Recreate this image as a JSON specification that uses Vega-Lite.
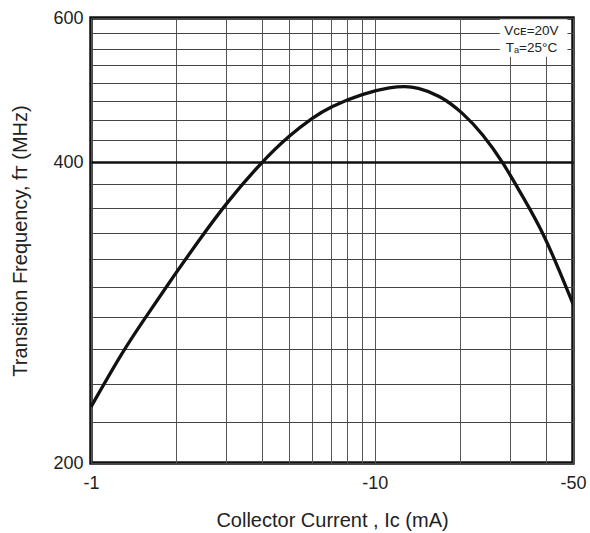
{
  "$schema": "https://vega.github.io/schema/vega-lite/v6.json",
  "autosize": "none",
  "width": 482,
  "height": 445,
  "padding": {"left": 91, "top": 18, "right": 17, "bottom": 70},
  "background": "white",
  "config": {
    "font": "Liberation Sans",
    "view": {"stroke": "#111", "strokeWidth": 3.5}
  },
  "encoding": {
    "x": {
      "field": "I",
      "type": "quantitative",
      "scale": {"type": "log", "domain": [1, 50], "nice": false, "zero": false},
      "axis": {
        "values": [1, 2, 3, 4, 5, 6, 7, 8, 9, 10, 20, 30, 40, 50],
        "labelExpr": "datum.value == 1 || datum.value == 10 || datum.value == 50 ? '-' + datum.value : ''",
        "title": "Collector Current , Iᴄ (mA)",
        "titleFont": "Liberation Sans",
        "titleFontSize": 20,
        "titleFontWeight": "normal",
        "titleColor": "#222",
        "titlePadding": 18,
        "labelFontSize": 18,
        "labelColor": "#222",
        "labelPadding": 11,
        "labelFlush": false,
        "labelOverlap": false,
        "ticks": false,
        "domain": false,
        "grid": true,
        "gridColor": "#555",
        "gridWidth": 1,
        "gridOpacity": 1
      }
    },
    "y": {
      "field": "F",
      "type": "quantitative",
      "scale": {"type": "log", "domain": [200, 400, 600], "range": [445, 144, 0], "nice": false, "zero": false},
      "axis": {
        "values": [200, 220, 240, 260, 280, 300, 320, 340, 360, 380, 400, 425, 450, 475, 500, 525, 550, 575, 600],
        "labelExpr": "datum.value == 200 || datum.value == 400 || datum.value == 600 ? '' + datum.value : ''",
        "title": "Transition Frequency,  fᴛ (MHz)",
        "titleFont": "Liberation Sans",
        "titleFontSize": 20,
        "titleFontWeight": "normal",
        "titleColor": "#222",
        "titlePadding": 22,
        "labelFontSize": 18,
        "labelColor": "#222",
        "labelPadding": 8,
        "labelFlush": false,
        "labelOverlap": false,
        "ticks": false,
        "domain": false,
        "grid": true,
        "gridColor": {"condition": {"test": "datum.value == 400", "value": "#111"}, "value": "#444"},
        "gridWidth": {"condition": {"test": "datum.value == 400", "value": 2.4}, "value": 1},
        "gridOpacity": 1
      }
    }
  },
  "layer": [
    {
      "data": {"values": [
        {"I": 1.0, "F": 227.6},
        {"I": 1.3, "F": 259.4},
        {"I": 1.57, "F": 280.6},
        {"I": 1.95, "F": 307.2},
        {"I": 2.42, "F": 335.0},
        {"I": 3.0, "F": 364.0},
        {"I": 3.99, "F": 400},
        {"I": 5.02, "F": 431.6},
        {"I": 6.06, "F": 453.5},
        {"I": 6.94, "F": 467.0},
        {"I": 9.09, "F": 485.3},
        {"I": 11.5, "F": 494.0},
        {"I": 12.8, "F": 495.0},
        {"I": 14.02, "F": 493.7},
        {"I": 16.94, "F": 483.0},
        {"I": 20.46, "F": 459.5},
        {"I": 24.06, "F": 432.5},
        {"I": 28.3, "F": 400},
        {"I": 33.28, "F": 369.0},
        {"I": 39.36, "F": 340.4},
        {"I": 50, "F": 288.5}
      ]},
      "mark": {"type": "line", "color": "#111", "strokeWidth": 3.3, "interpolate": "basis", "clip": true}
    },
    {
      "data": {"values": [{"I": 27.6, "I2": 47.8, "F": 598, "F2": 538}]},
      "mark": {"type": "rect", "fill": "white", "stroke": null},
      "encoding": {
        "x2": {"field": "I2"},
        "y2": {"field": "F2"}
      }
    },
    {
      "data": {"values": [
        {"I": 35.7, "F": 579, "label": "Vᴄᴇ=20V"},
        {"I": 35.7, "F": 552, "label": "Tₐ=25°C"}
      ]},
      "mark": {"type": "text", "fontSize": 13.5, "color": "#222", "align": "center", "baseline": "middle", "font": "Liberation Sans"},
      "encoding": {"text": {"field": "label"}}
    }
  ]
}
